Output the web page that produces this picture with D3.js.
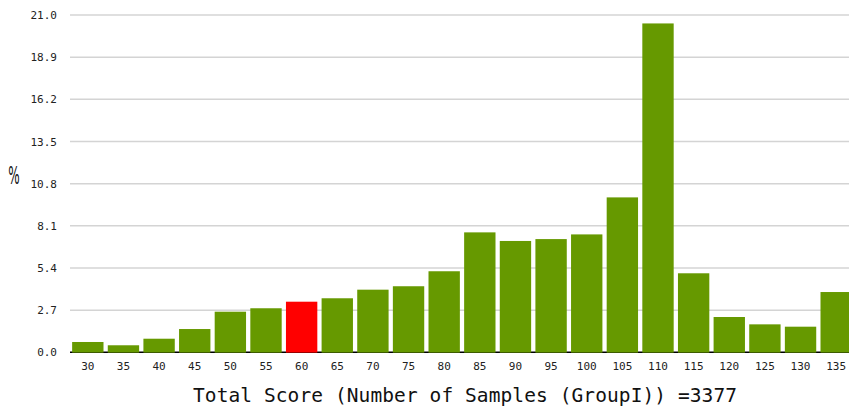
<!DOCTYPE html>
<html>
<head>
<meta charset="utf-8">
<script src="https://cdn.jsdelivr.net/npm/d3@7/dist/d3.min.js"></script>
<style>
  body { margin: 0; background: #fff; }
  svg { display: block; }
  .grid line { stroke: #d4d4d4; stroke-width: 1.5px; }
  .tick text { font-family: "DejaVu Sans Mono", monospace; font-size: 11px; fill: #222; }
  .title { font-family: "DejaVu Sans Mono", monospace; font-size: 19.5px; fill: #111; }
</style>
</head>
<body>
<svg width="849" height="406"></svg>
<script>

// score bins (x axis)
var categories = ["30","35","40","45","50","55","60","65","70","75","80","85","90","95","100","105","110","115","120","125","130","135"];
// percentage of samples in each bin
var percents = [0.66, 0.45, 0.87, 1.49, 2.60, 2.82, 3.24, 3.46, 4.01, 4.23, 5.19, 7.68, 7.13, 7.25, 7.55, 9.92, 21.06, 5.06, 2.26, 1.79, 1.64, 3.86];
// the highlighted bin
var highlight = "60";
// y ticks and their printed labels
var yTicks = [0, 2.7, 5.4, 8.1, 10.8, 13.5, 16.2, 18.9, 21.6];
var yTickLabels = ["0.0", "2.7", "5.4", "8.1", "10.8", "13.5", "16.2", "18.9", "21.0"];

var svg = d3.select("svg");
var width = 849, height = 406;

var x = d3.scaleBand()
    .domain(categories)
    .range([70, 854])
    .paddingInner(0.12)
    .paddingOuter(0.06);

var y = d3.scaleLinear()
    .domain([0, 21.6])
    .range([352.3, 15]);

// grid lines
svg.append("g")
    .attr("class", "grid")
  .selectAll("line")
  .data(yTicks.slice(1))
  .enter().append("line")
    .attr("x1", 70)
    .attr("x2", width)
    .attr("y1", function(d) { return y(d); })
    .attr("y2", function(d) { return y(d); });

// baseline
svg.append("line")
    .attr("x1", 70).attr("x2", width)
    .attr("y1", y(0)).attr("y2", y(0))
    .attr("stroke", "#000").attr("stroke-width", 1.5);

// y axis labels
var yAxis = svg.append("g")
    .attr("transform", "translate(70,0)")
    .call(d3.axisLeft(y)
      .tickValues(yTicks)
      .tickSize(0)
      .tickPadding(13)
      .tickFormat(function(d, i) { return yTickLabels[i]; }));
yAxis.select(".domain").remove();

// x axis labels
var xAxis = svg.append("g")
    .attr("transform", "translate(0," + y(0) + ")")
    .call(d3.axisBottom(x).tickSize(0).tickPadding(10));
xAxis.select(".domain").remove();

// bars
svg.append("g")
  .selectAll("rect")
  .data(categories)
  .enter().append("rect")
    .attr("x", function(d) { return x(d); })
    .attr("width", x.bandwidth())
    .attr("y", function(d, i) { return y(percents[i]); })
    .attr("height", function(d, i) { return y(0) - y(percents[i]) + 0.3; })
    .attr("fill", function(d) { return d === highlight ? "#ff0000" : "#669900"; });

// axis titles (narrow, tall percent sign)
svg.append("text")
    .attr("transform", "translate(14,184) scale(0.5,1)")
    .attr("text-anchor", "middle")
    .attr("font-family", "'DejaVu Sans', sans-serif")
    .attr("font-size", 24)
    .attr("fill", "#111")
    .text("%");

svg.append("text")
    .attr("class", "title")
    .attr("x", 193)
    .attr("y", 402)
    .attr("textLength", 544)
    .text("Total Score (Number of Samples (GroupI)) =3377");

</script>
</body>
</html>
